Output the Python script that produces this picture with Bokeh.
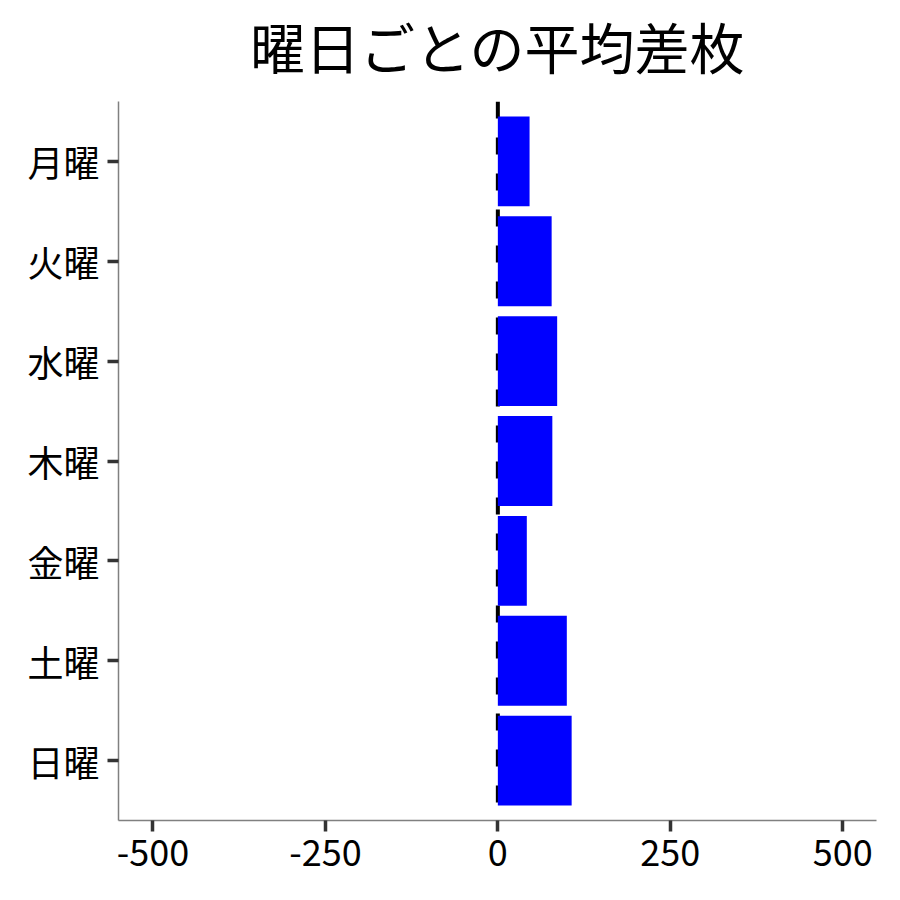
from bokeh.plotting import figure
from bokeh.models import FactorRange, Range1d, Span, FixedTicker, ColumnDataSource
from bokeh.embed import file_html
from bokeh.resources import INLINE

title_text = "曜日ごとの平均差枚"
days = ["月曜", "火曜", "水曜", "木曜", "金曜", "土曜", "日曜"]
avg_diff = [46, 78, 86, 79, 42, 100, 107]
x_ticks = [-500, -250, 0, 250, 500]
x_tick_labels = ["-500", "-250", "0", "250", "500"]

FONT = "Noto Sans CJK JP"
TITLE_FONT = "Liberation Sans, Noto Sans CJK JP"

factors = list(reversed(days))
src = ColumnDataSource(dict(day=days, val=avg_diff))

p = figure(
    y_range=FactorRange(factors=factors, range_padding=0.2 / 7, range_padding_units="percent"),
    x_range=Range1d(-550, 549),
    frame_width=758, frame_height=719,
    min_border_left=118, min_border_right=16,
    min_border_top=101, min_border_bottom=60,
    output_backend="svg", toolbar_location=None,
    title=title_text,
)

p.hbar(y="day", left=0, right="val", height=0.9, source=src,
       fill_color="#0000FF", line_color=None)

zero = Span(location=0, dimension="height", line_color="black",
            line_width=4, line_dash="17 19", level="underlay")
p.add_layout(zero)

p.title.text_font = TITLE_FONT
p.title.text_font_size = "55px"
p.title.text_font_style = "normal"
p.title.align = "center"
p.title.vertical_align = "top"
p.title.text_color = "black"
p.title.standoff = 37

p.xgrid.visible = False
p.ygrid.visible = False
p.outline_line_color = None

p.xaxis.ticker = FixedTicker(ticks=x_ticks)
p.xaxis.major_label_overrides = {t: s for t, s in zip(x_ticks, x_tick_labels)}

for ax in (p.xaxis, p.yaxis):
    ax.axis_line_color = "#808080"
    ax.axis_line_width = 1.5
    ax.major_tick_line_color = "#333333"
    ax.major_tick_line_width = 3.5
    ax.major_tick_in = 0
    ax.major_tick_out = 11
    ax.minor_tick_line_color = None
    ax.major_label_text_font = FONT
    ax.major_label_text_font_size = "36px"
    ax.major_label_text_color = "black"

p.yaxis.major_label_standoff = 8
p.xaxis.major_label_standoff = 8

open("out.html", "w").write(file_html(p, INLINE))
